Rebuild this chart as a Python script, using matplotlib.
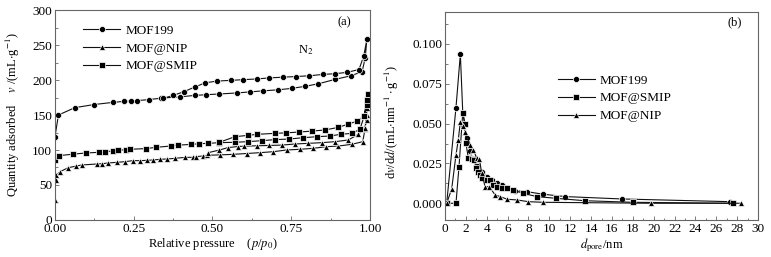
import matplotlib
matplotlib.use("Agg")
import matplotlib.pyplot as plt
from matplotlib.ticker import MultipleLocator, FormatStrFormatter

plt.rcParams['font.family'] = ['Liberation Serif', 'DejaVu Serif']
plt.rcParams['mathtext.fontset'] = 'stix'

# ---------------- Panel (a): N2 isotherms ----------------
mof199_ads_x = [0.000, 0.011, 0.063, 0.125, 0.183, 0.219, 0.240, 0.259, 0.298, 0.336, 0.397, 0.444,
                0.480, 0.520, 0.577, 0.619, 0.660, 0.708, 0.751, 0.794, 0.835, 0.890, 0.939, 0.975, 0.985]
mof199_ads_y = [119, 150, 160.5, 165, 168, 169.5, 170, 170.5, 172, 174, 176, 178,
                179, 180, 181.5, 183, 184.5, 186, 188, 191, 194.5, 201, 206, 212, 232]
mof199_des_x = [0.990, 0.980, 0.965, 0.928, 0.889, 0.850, 0.807, 0.765, 0.723, 0.680, 0.640, 0.598,
                0.558, 0.515, 0.477, 0.444, 0.410, 0.376, 0.344]
mof199_des_y = [258, 234, 215, 211, 209, 208, 206, 205, 204, 203, 201.5, 200.5,
                199.5, 198.5, 196, 190, 183.5, 178, 174]

smip_ads_x = [0.000, 0.014, 0.056, 0.097, 0.141, 0.159, 0.185, 0.201, 0.225, 0.238, 0.289, 0.321,
              0.367, 0.392, 0.432, 0.458, 0.487, 0.522, 0.571, 0.614, 0.656, 0.698, 0.744, 0.788,
              0.831, 0.873, 0.907, 0.942, 0.968, 0.982, 0.989, 0.993]
smip_ads_y = [86, 92, 94, 95.7, 96.7, 97.6, 98.6, 99.5, 100.5, 101, 102, 103.8,
              105.7, 107, 108, 109, 109.5, 110.5, 111, 112, 113.3, 114.8, 115.7, 117.6,
              119, 120, 122.4, 123.8, 129.5, 149, 165, 180]
smip_des_x = [0.989, 0.982, 0.960, 0.931, 0.900, 0.857, 0.815, 0.776, 0.733, 0.698, 0.642, 0.614,
              0.571, 0.522]
smip_des_y = [171, 149, 141.4, 137, 132.4, 128.6, 127, 125.7, 124.5, 123.8, 122.4, 121,
              119, 111]

nip_ads_x = [0.000, 0.002, 0.004, 0.016, 0.042, 0.067, 0.085, 0.134, 0.150, 0.169, 0.196, 0.222,
             0.247, 0.270, 0.291, 0.312, 0.333, 0.355, 0.381, 0.413, 0.437, 0.448, 0.471, 0.482,
             0.524, 0.566, 0.608, 0.651, 0.693, 0.735, 0.778, 0.820, 0.860, 0.900, 0.942, 0.977,
             0.984, 0.989, 0.993]
nip_ads_y = [28, 57, 64, 69, 74.7, 77, 78.6, 80, 80.5, 81.4, 82.4, 83.3,
             84.8, 84.8, 85.2, 85.7, 86.7, 87.1, 88.1, 89.5, 89.5, 90.5, 91.5, 92.5,
             93, 93.8, 95, 96.2, 97.6, 100, 101, 102.4, 104.7, 105.7, 108.1, 111.9,
             130, 150, 174]
nip_des_x = [0.990, 0.989, 0.984, 0.963, 0.931, 0.889, 0.847, 0.804, 0.762, 0.720, 0.680, 0.640,
             0.600, 0.582, 0.550, 0.522, 0.485]
nip_des_y = [160, 143, 131, 122.4, 114.3, 111.9, 110.5, 109.5, 108.6, 107, 106.5, 106,
             105.5, 105, 103.5, 100, 96]

# ---------------- Panel (b): pore size distribution ----------------
psd199_x = [0.16, 1.05, 1.47, 1.70, 2.08, 2.40, 2.66, 3.10, 3.52, 4.00, 4.47, 4.96, 5.43, 5.91,
            6.71, 7.83, 9.37, 11.5, 16.94, 27.3]
psd199_y = [0.000, 0.060, 0.0936, 0.0569, 0.0408, 0.033, 0.0276, 0.0234, 0.0199, 0.0167, 0.0146,
            0.013, 0.0115, 0.0098, 0.0079, 0.0073, 0.0057, 0.0042, 0.0027, 0.001]

psdsmip_x = [0.16, 1.05, 1.34, 1.70, 1.92, 2.01, 2.23, 2.56, 2.81, 2.97, 3.20, 3.36, 3.52, 4.00,
             4.32, 4.63, 4.96, 5.43, 5.91, 6.49, 7.45, 8.79, 10.64, 13.4, 18.05, 27.6]
psdsmip_y = [0.000, 0.000, 0.023, 0.0569, 0.050, 0.0377, 0.0283, 0.0276, 0.0272, 0.022, 0.0199,
             0.0178, 0.0157, 0.0146, 0.0146, 0.0115, 0.0104, 0.0098, 0.0094, 0.0084, 0.0063,
             0.0042, 0.0031, 0.0016, 0.0006, 0.000]

psdnip_x = [0.16, 0.64, 1.05, 1.27, 1.47, 1.70, 1.92, 2.40, 2.72, 3.04, 3.29, 3.52, 3.84, 4.25,
            4.80, 5.27, 5.97, 6.87, 7.99, 9.37, 19.75, 28.4]
psdnip_y = [0.000, 0.009, 0.0303, 0.0398, 0.0513, 0.0486, 0.045, 0.0366, 0.0335, 0.0283, 0.0278,
            0.0188, 0.0104, 0.0104, 0.0052, 0.0042, 0.0025, 0.0021, 0.001, 0.0006, 0.000, 0.000]

fig = plt.figure(figsize=(7.71, 2.57), dpi=100)
axa = fig.add_axes([0.0713, 0.144, 0.4086, 0.817])
axb = fig.add_axes([0.5772, 0.144, 0.4060, 0.809])

spine_c = '#666666'
fs_tick = 9.5
fs_lab = 9
fs_leg = 9.5
line_kw = dict(color='#111111', lw=0.8, markersize=4.4, markeredgecolor='white',
               markeredgewidth=0.5, markerfacecolor='black')

# Panel a
axa.plot(mof199_ads_x + mof199_des_x, mof199_ads_y + mof199_des_y, marker='o', label='MOF199', **line_kw)
axa.plot(nip_ads_x + nip_des_x, nip_ads_y + nip_des_y, marker='^', label='MOF@NIP', **line_kw)
axa.plot(smip_ads_x + smip_des_x, smip_ads_y + smip_des_y, marker='s', label='MOF@SMIP',
         **{**line_kw, 'markersize': 4.0})
axa.set_xlim(0, 1.0)
axa.set_ylim(0, 300)
axa.xaxis.set_major_locator(MultipleLocator(0.25))
axa.xaxis.set_minor_locator(MultipleLocator(0.125))
axa.xaxis.set_major_formatter(FormatStrFormatter('%.2f'))
axa.yaxis.set_major_locator(MultipleLocator(50))
axa.yaxis.set_minor_locator(MultipleLocator(25))
axa.set_xlabel(r'Relative pressure    ($p$/$p_0$)', fontsize=fs_lab, labelpad=1)
axa.set_ylabel(r'Quantity adsorbed    $v$ /(mL$\cdot$g$^{-1}$)', fontsize=fs_lab)
axa.yaxis.set_label_coords(-0.105, 0.5)
axa.text(0.92, 0.94, '(a)', transform=axa.transAxes, fontsize=fs_lab, ha='center', va='center')
axa.text(0.795, 0.81, r'N$_2$', transform=axa.transAxes, fontsize=fs_lab, ha='center', va='center')
la = axa.legend(loc='upper left', bbox_to_anchor=(0.06, 0.975), frameon=False, fontsize=fs_leg,
                handlelength=2.8, labelspacing=0.42, handletextpad=0.4, borderpad=0.2)

# Panel b
axb.plot(psd199_x, psd199_y, marker='o', label='MOF199', **line_kw)
axb.plot(psdsmip_x, psdsmip_y, marker='s', label='MOF@SMIP', **{**line_kw, 'markersize': 4.0})
axb.plot(psdnip_x, psdnip_y, marker='^', label='MOF@NIP', **line_kw)
axb.set_xlim(0, 30)
axb.set_ylim(-0.0105, 0.12)
axb.xaxis.set_major_locator(MultipleLocator(2))
axb.xaxis.set_minor_locator(MultipleLocator(1))
axb.yaxis.set_major_locator(MultipleLocator(0.025))
axb.yaxis.set_minor_locator(MultipleLocator(0.0125))
axb.yaxis.set_major_formatter(FormatStrFormatter('%.3f'))
axb.set_xlabel(r'$d_{\rm pore}$/nm', fontsize=fs_lab, labelpad=1)
axb.set_ylabel(r'd$v$/d$d$/(mL$\cdot$nm$^{-1}\cdot$g$^{-1}$)', fontsize=fs_lab)
axb.yaxis.set_label_coords(-0.14, 0.47)
axb.text(0.925, 0.95, '(b)', transform=axb.transAxes, fontsize=fs_lab, ha='center', va='center')
lb = axb.legend(loc='upper left', bbox_to_anchor=(0.33, 0.745), frameon=False, fontsize=fs_leg,
                handlelength=2.8, labelspacing=0.42, handletextpad=0.4, borderpad=0.2)

for ax in (axa, axb):
    for s in ax.spines.values():
        s.set_color(spine_c)
        s.set_linewidth(0.8)
    ax.tick_params(which='both', direction='in', top=False, right=False, colors=spine_c,
                   labelcolor='black', labelsize=fs_tick, pad=2)
    ax.tick_params(which='major', length=3, width=0.6)
    ax.tick_params(which='minor', length=1.8, width=0.6)

fig.savefig('out.png', dpi=100)
